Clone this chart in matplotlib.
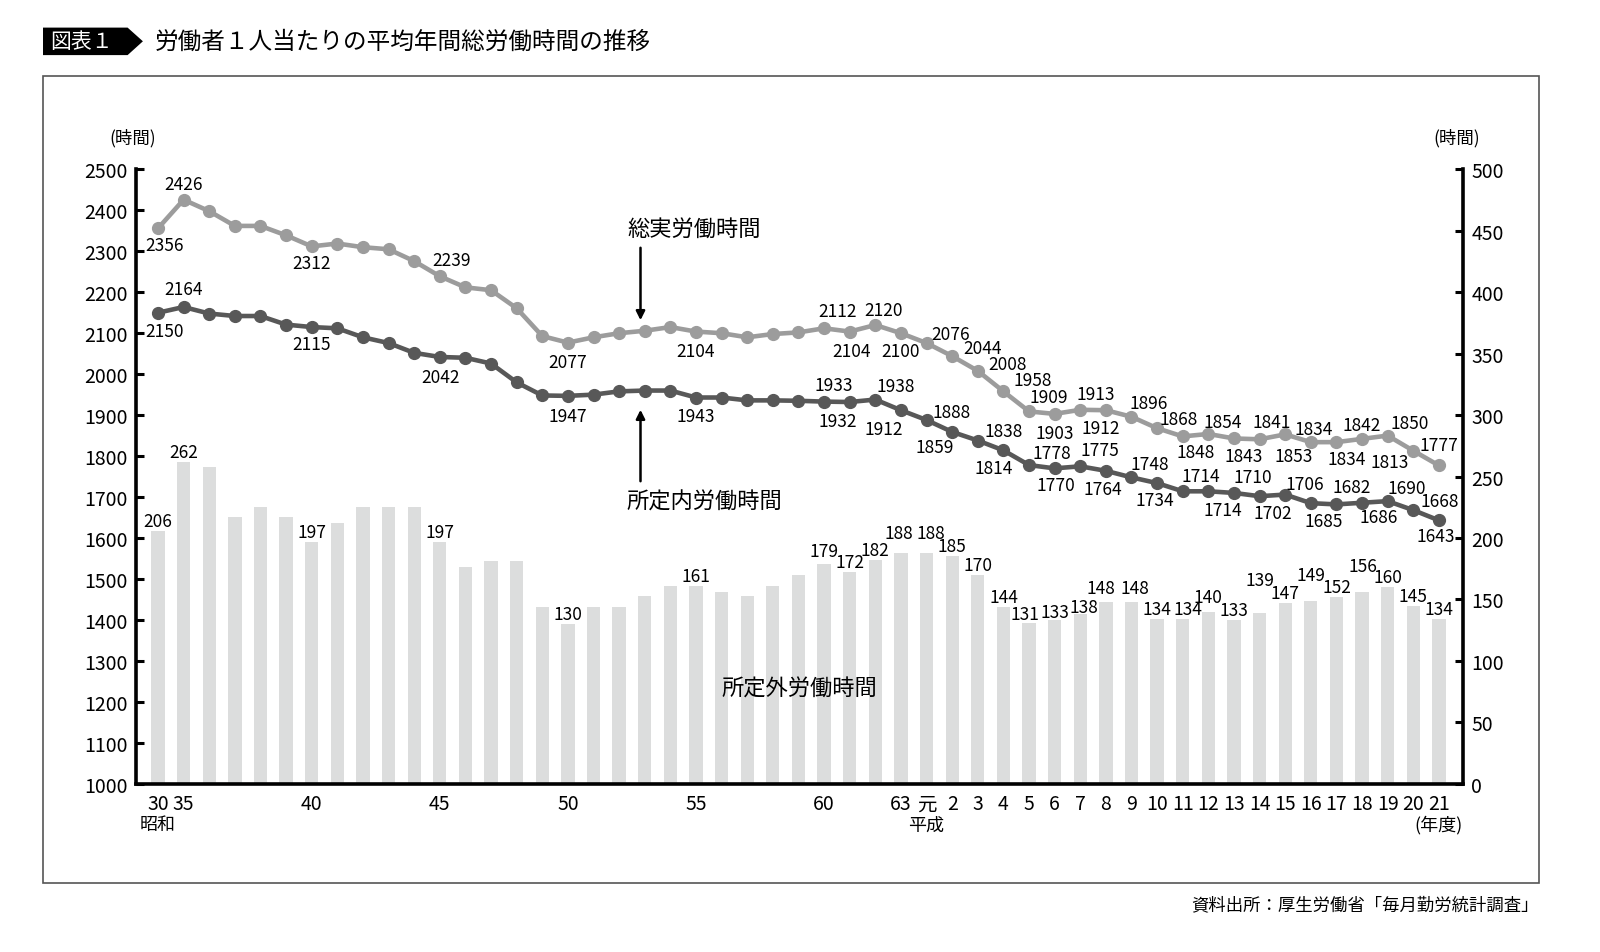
import matplotlib
matplotlib.use('Agg')
import matplotlib.pyplot as plt
from matplotlib.patches import Polygon, Rectangle, FancyArrowPatch

plt.rcParams['font.family'] = ['Noto Sans CJK JP', 'DejaVu Sans']

# ---------------- data ----------------
periods = (['昭和30'] + ['昭和%d' % y for y in range(35, 64)] +
           ['平成元'] + ['平成%d' % y for y in range(2, 22)])

tick_idx = [0, 1, 6, 11, 16, 21, 26, 29, 30] + list(range(31, 51))
tick_txt = ['30', '35', '40', '45', '50', '55', '60', '63', '元'] + [str(y) for y in range(2, 22)]

total_hours = [2356, 2426, 2398, 2362, 2362, 2339, 2312, 2319, 2310, 2305,
               2276, 2239, 2212, 2205, 2161, 2093, 2077, 2090, 2100, 2106,
               2115, 2104, 2100, 2090, 2098, 2102, 2112, 2104, 2120, 2100,
               2076, 2044, 2008, 1958, 1909, 1903, 1913, 1912, 1896, 1868,
               1848, 1854, 1843, 1841, 1853, 1834, 1834, 1842, 1850, 1813,
               1777]

scheduled_hours = [2150, 2164, 2148, 2142, 2142, 2121, 2115, 2112, 2090, 2076,
                   2052, 2042, 2040, 2026, 1980, 1948, 1947, 1950, 1958, 1960,
                   1960, 1943, 1943, 1936, 1936, 1935, 1933, 1932, 1938, 1912,
                   1888, 1859, 1838, 1814, 1778, 1770, 1775, 1764, 1748, 1734,
                   1714, 1714, 1710, 1702, 1706, 1685, 1682, 1686, 1690, 1668,
                   1643]

overtime_hours = [206, 262, 258, 217, 225, 217, 197, 212, 225, 225,
                  225, 197, 176, 181, 181, 144, 130, 144, 144, 153,
                  161, 161, 156, 153, 161, 170, 179, 172, 182, 188,
                  188, 185, 170, 144, 131, 133, 138, 148, 148, 134,
                  134, 140, 133, 139, 147, 149, 152, 156, 160, 145,
                  134]

labeled_idx = [0, 1, 6, 11, 16, 21] + list(range(26, 51))

# label offsets (image px: dx right, dy down)
total_off = {0: (7, 17), 1: (0, -16), 6: (0, 17), 11: (12, -16), 16: (0, 19), 21: (0, 19),
             26: (13, -17), 27: (2, 19), 28: (8, -15), 29: (0, 18), 30: (24, -9),
             31: (30, -8), 32: (30, -7), 33: (29, -11), 34: (20, -14), 35: (0, 19),
             36: (15, -16), 37: (-5, 18), 38: (17, -14), 39: (22, -9), 40: (13, 16),
             41: (14, -12), 42: (10, 18), 43: (12, -17), 44: (8, 22), 45: (3, -13),
             46: (10, 17), 47: (0, -14), 48: (22, -13), 49: (-24, 11), 50: (0, -20)}
sched_off = {0: (7, 18), 1: (0, -18), 6: (0, 17), 11: (1, 20), 16: (0, 20), 21: (0, 18),
             26: (10, -17), 27: (-12, 19), 28: (20, -14), 29: (-17, 19), 30: (25, -8),
             31: (-17, 15), 32: (26, -10), 33: (-10, 18), 34: (23, -12), 35: (1, 17),
             36: (20, -16), 37: (-3, 18), 38: (18, -13), 39: (-2, 17), 40: (18, -15),
             41: (14, 19), 42: (19, -16), 43: (13, 17), 44: (20, -11), 45: (13, 18),
             46: (15, -17), 47: (17, 14), 48: (19, -13), 49: (26, -9), 50: (-3, 16)}
over_off = {26: (0, -13), 29: (-2, -20), 30: (4, -20), 33: (1, -10), 34: (-4, -9),
            35: (0, -8), 36: (4, -7), 37: (-5, -14), 38: (3, -14), 40: (5, -10), 41: (0, -15),
            43: (0, -33), 45: (0, -26), 47: (1, -26)}

# ---------------- figure ----------------
W, H = 1600, 953
fig = plt.figure(figsize=(16, 9.53), dpi=100)


def fx(x):
    return x / W


def fy(y):
    return 1 - y / H


L, R, T, B = 135.7, 1463, 170.4, 784.7
ax = fig.add_axes([fx(L), fy(B), fx(R) - fx(L), (B - T) / H])
ax2 = ax.twinx()
ax.set_zorder(ax2.get_zorder() + 1)
ax.patch.set_visible(False)

x = list(range(len(periods)))

ax2.bar(x, overtime_hours, width=0.52, color='#dcdddd', zorder=1)
ax.plot(x, total_hours, color='#9c9c9c', lw=3.3, marker='o', ms=8.5, zorder=3)
ax.plot(x, scheduled_hours, color='#585858', lw=3.3, marker='o', ms=8.5, zorder=4)

ax.set_xlim(-0.87, 50.94)
ax.set_ylim(1000, 2500)
ax2.set_ylim(0, 500)
ax.set_yticks(range(1000, 2501, 100))
ax2.set_yticks(range(0, 501, 50))
ax.set_xticks(tick_idx)
ax.set_xticklabels(tick_txt)

for s in ['top', 'right']:
    ax.spines[s].set_visible(False)
for s in ['top', 'left', 'bottom']:
    ax2.spines[s].set_visible(False)
for sp in [ax.spines['left'], ax.spines['bottom'], ax2.spines['right']]:
    sp.set_linewidth(2.6)
    sp.set_color('black')

ax.tick_params(axis='y', direction='in', length=6, width=2.2, labelsize=14, pad=6)
ax2.tick_params(axis='y', direction='in', length=6, width=2.2, labelsize=14, pad=6)
ax.tick_params(axis='x', length=0, labelsize=14, pad=7)

FS = 12.5
for i in labeled_idx:
    dx, dy = total_off[i]
    ax.annotate(str(total_hours[i]), (x[i], total_hours[i]), xytext=(dx, -dy),
                textcoords='offset pixels', ha='center', va='center', fontsize=FS, zorder=6)
    dx, dy = sched_off[i]
    ax.annotate(str(scheduled_hours[i]), (x[i], scheduled_hours[i]), xytext=(dx, -dy),
                textcoords='offset pixels', ha='center', va='center', fontsize=FS, zorder=6)
    dx, dy = over_off.get(i, (0, -10))
    ax2.annotate(str(overtime_hours[i]), (x[i], overtime_hours[i]), xytext=(dx, -dy),
                 textcoords='offset pixels', ha='center', va='center', fontsize=FS)

# axis unit labels
fig.text(fx(132.7), fy(137.8), '(時間)', ha='center', va='center', fontsize=12.5)
fig.text(fx(1457), fy(137.8), '(時間)', ha='center', va='center', fontsize=12.5)
fig.text(fx(158), fy(825.5), '昭和', ha='center', va='center', fontsize=13)
fig.text(fx(926.5), fy(825.5), '平成', ha='center', va='center', fontsize=13)
fig.text(fx(1439), fy(825.5), '(年度)', ha='center', va='center', fontsize=13)

# series annotations
fig.text(fx(694), fy(229.6), '総実労働時間', ha='center', va='center', fontsize=16)
fig.text(fx(704), fy(502), '所定内労働時間', ha='center', va='center', fontsize=16)
fig.text(fx(799), fy(689), '所定外労働時間', ha='center', va='center', fontsize=16)
fig.add_artist(FancyArrowPatch((fx(640.5), fy(246)), (fx(640.5), fy(324)),
                               transform=fig.transFigure, arrowstyle='-|>',
                               mutation_scale=13, lw=1.8, color='black'))
fig.add_artist(FancyArrowPatch((fx(640.5), fy(485)), (fx(640.5), fy(408)),
                               transform=fig.transFigure, arrowstyle='-|>',
                               mutation_scale=13, lw=1.8, color='black'))

# outer frame
fig.add_artist(Rectangle((fx(42.9), fy(883.7)), fx(1538.8) - fx(42.9), (883.7 - 76.5) / H,
                         fill=False, edgecolor='#555555', lw=1.2, transform=fig.transFigure))

# title block
fig.add_artist(Polygon([(fx(43), fy(28.6)), (fx(127.6), fy(28.6)), (fx(142.9), fy(42.3)),
                        (fx(127.6), fy(56.1)), (fx(43), fy(56.1))], closed=True,
                       facecolor='black', edgecolor='none', transform=fig.transFigure))
fig.text(fx(82), fy(42.3), '図表１', ha='center', va='center', fontsize=15, color='white')
fig.text(fx(155), fy(42.3), '労働者１人当たりの平均年間総労働時間の推移', ha='left', va='center',
         fontsize=17)

# source
fig.text(fx(1539), fy(905), '資料出所：厚生労働省「毎月勤労統計調査」', ha='right', va='center',
         fontsize=12.5)

fig.savefig('out.png', dpi=100)
